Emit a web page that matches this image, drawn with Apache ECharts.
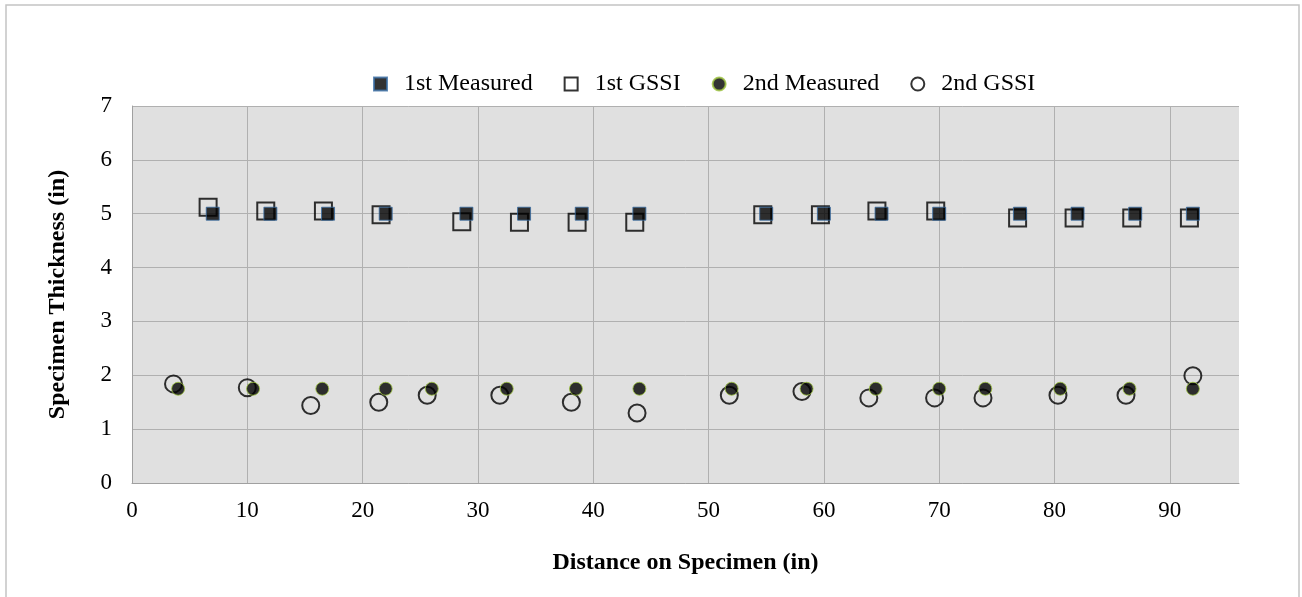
<!DOCTYPE html>
<html>
<head>
<meta charset="utf-8">
<script src="https://cdn.jsdelivr.net/npm/echarts@6/dist/echarts.min.js"></script>
<style>
html,body{margin:0;padding:0;background:#fff;}
#chart{width:1302px;height:597px;}
</style>
</head>
<body>
<div id="chart"></div>
<script>
// ---- data ----
var firstMeasuredX = [7, 12, 17, 22, 29, 34, 39, 44, 55, 60, 65, 70, 77, 82, 87, 92];
var firstMeasuredY = [5, 5, 5, 5, 5, 5, 5, 5, 5, 5, 5, 5, 5, 5, 5, 5];
var firstGssiX = [6.6, 11.6, 16.6, 21.6, 28.6, 33.6, 38.6, 43.6, 54.7, 59.7, 64.6, 69.7, 76.8, 81.7, 86.7, 91.7];
var firstGssiY = [5.12, 5.05, 5.05, 4.98, 4.85, 4.84, 4.84, 4.84, 4.98, 4.98, 5.05, 5.05, 4.92, 4.92, 4.92, 4.92];
var secondMeasuredX = [4, 10.5, 16.5, 22, 26, 32.5, 38.5, 44, 52, 58.5, 64.5, 70, 74, 80.5, 86.5, 92];
var secondMeasuredY = [1.75, 1.75, 1.75, 1.75, 1.75, 1.75, 1.75, 1.75, 1.75, 1.75, 1.75, 1.75, 1.75, 1.75, 1.75, 1.75];
var secondGssiX = [3.6, 10.0, 15.5, 21.4, 25.6, 31.9, 38.1, 43.8, 51.8, 58.1, 63.9, 69.6, 73.8, 80.3, 86.2, 92.0];
var secondGssiY = [1.84, 1.77, 1.44, 1.50, 1.63, 1.63, 1.50, 1.30, 1.63, 1.70, 1.58, 1.58, 1.58, 1.63, 1.63, 1.99];
var seriesNames = ['1st Measured', '1st GSSI', '2nd Measured', '2nd GSSI'];
var xTitle = 'Distance on Specimen (in)';
var yTitle = 'Specimen Thickness (in)';

function pairs(xs, ys) { return xs.map(function (x, i) { return [x, ys[i]]; }); }

var FONT = '"Liberation Serif", "Times New Roman", serif';
var gridColor = '#b0b0b0';

var chart = echarts.init(document.getElementById('chart'), null, {renderer: 'canvas'});
chart.setOption({
  animation: false,
  backgroundColor: '#ffffff',
  graphic: [{
    type: 'rect',
    shape: {x: 6, y: 5, width: 1293, height: 640},
    style: {fill: 'none', stroke: '#c4c4c4', lineWidth: 1.5},
    silent: true
  }],
  legend: {
    data: seriesNames,
    left: 368,
    top: 67,
    itemWidth: 13,
    itemHeight: 13,
    itemGap: 31,
    textStyle: {fontFamily: FONT, fontSize: 24, color: '#000', padding: [0, 0, 0, 12]}
  },
  grid: {
    left: 132, right: 63, top: 106, bottom: 114,
    show: true, backgroundColor: '#e0e0e0', borderWidth: 0
  },
  xAxis: {
    type: 'value', min: 0, max: 96, interval: 10,
    name: xTitle, nameLocation: 'middle', nameGap: 68,
    nameTextStyle: {fontFamily: FONT, fontSize: 24, fontWeight: 'bold', color: '#000'},
    axisLine: {show: true, lineStyle: {color: '#a0a0a0', width: 1}},
    axisTick: {show: false},
    axisLabel: {
      fontFamily: FONT, fontSize: 23, color: '#000', margin: 16,
      formatter: function (v) { return v % 10 === 0 ? String(v) : ''; }
    },
    splitLine: {show: true, showMaxLine: false, lineStyle: {color: gridColor, width: 1}}
  },
  yAxis: {
    type: 'value', min: 0, max: 7, interval: 1,
    name: yTitle, nameLocation: 'middle', nameGap: 62,
    nameTextStyle: {fontFamily: FONT, fontSize: 24, fontWeight: 'bold', color: '#000'},
    axisLine: {show: true, lineStyle: {color: '#a0a0a0', width: 1}},
    axisTick: {show: false},
    axisLabel: {fontFamily: FONT, fontSize: 23, color: '#000', margin: 20},
    splitLine: {show: true, lineStyle: {color: gridColor, width: 1}}
  },
  series: [
    {
      name: seriesNames[0], type: 'scatter', z: 4,
      symbol: 'rect', symbolSize: 13,
      itemStyle: {color: '#000', borderColor: '#3a6ea5', borderWidth: 1},
      data: pairs(firstMeasuredX, firstMeasuredY)
    },
    {
      name: seriesNames[1], type: 'scatter', z: 3,
      symbol: 'rect', symbolSize: 17,
      itemStyle: {color: 'rgba(0,0,0,0)', borderColor: '#000', borderWidth: 2},
      data: pairs(firstGssiX, firstGssiY)
    },
    {
      name: seriesNames[2], type: 'scatter', z: 4,
      symbol: 'circle', symbolSize: 13,
      itemStyle: {color: '#000', borderColor: '#9bc23c', borderWidth: 1},
      data: pairs(secondMeasuredX, secondMeasuredY)
    },
    {
      name: seriesNames[3], type: 'scatter', z: 3,
      symbol: 'circle', symbolSize: 17,
      itemStyle: {color: 'rgba(0,0,0,0)', borderColor: '#000', borderWidth: 2},
      data: pairs(secondGssiX, secondGssiY)
    }
  ]
});
</script>
</body>
</html>
